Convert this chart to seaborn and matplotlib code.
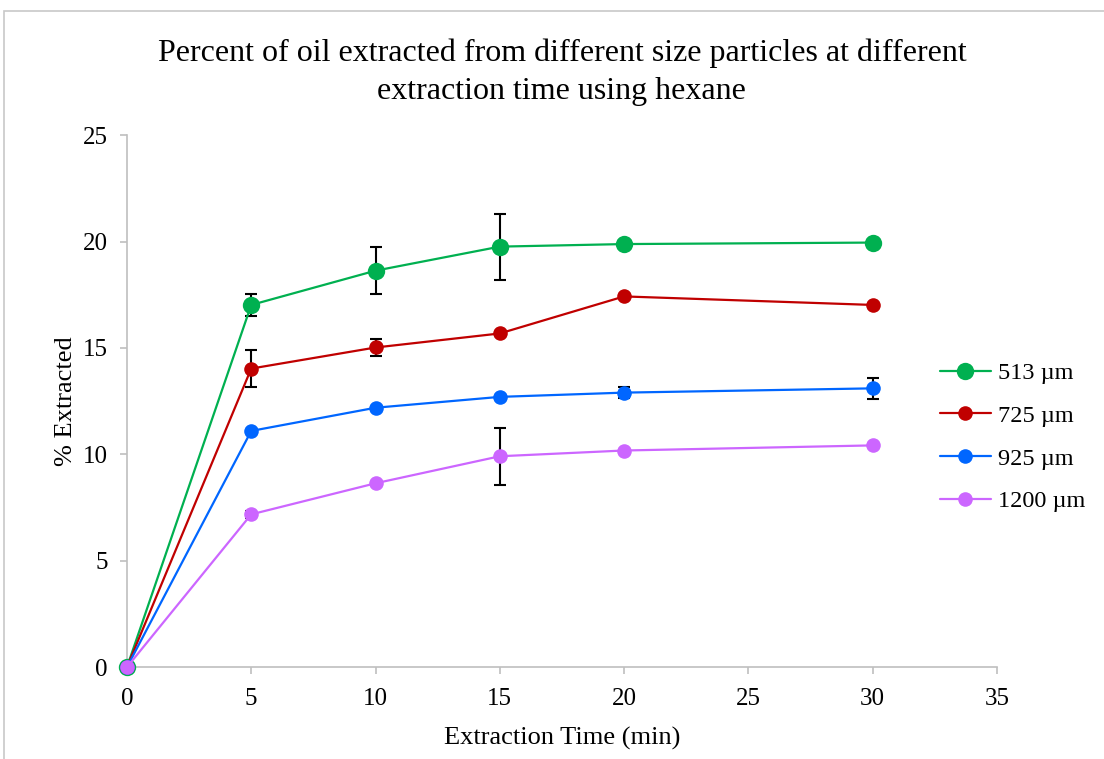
import pandas as pd
import seaborn as sns
import matplotlib.pyplot as plt
from matplotlib.patches import Rectangle

# data
time_min = [0, 5, 10, 15, 20, 30]
sizes = ['513 µm', '725 µm', '925 µm', '1200 µm']
p513 = [0, 17.02, 18.63, 19.76, 19.88, 19.95]
p725 = [0, 14.03, 15.02, 15.68, 17.42, 17.02]
p925 = [0, 11.10, 12.19, 12.70, 12.90, 13.10]
p1200 = [0, 7.18, 8.64, 9.91, 10.18, 10.42]
err513 = [0, 0.52, 1.10, 1.55, 0, 0]
err725 = [0, 0.87, 0.40, 0, 0, 0]
err925 = [0, 0, 0, 0, 0.25, 0.48]
err1200 = [0, 0.18, 0, 1.33, 0, 0]

colors = ['#00B050', '#C00000', '#0066FF', '#CC66FF']
marker_sizes = [12.5, 10.5, 10.5, 10.5]

values = [p513, p725, p925, p1200]
errors = [err513, err725, err925, err1200]

rows = []
for s, v in zip(sizes, values):
    for t, y in zip(time_min, v):
        rows.append({'time': t, 'pct': y, 'size': s})
df = pd.DataFrame(rows)

sns.set_style('white')
plt.rcParams['font.family'] = ['Liberation Serif', 'DejaVu Serif']
plt.rcParams['text.color'] = 'black'
plt.rcParams['axes.labelcolor'] = 'black'
plt.rcParams['xtick.color'] = 'black'
plt.rcParams['ytick.color'] = 'black'

fig = plt.figure(figsize=(11.04, 7.59), dpi=100)
ax = fig.add_axes([0.115, 0.121, 0.788, 0.701])

# error bars first so markers sit on top
for v, e in zip(values, errors):
    ax.errorbar(time_min, v, yerr=e, fmt='none', ecolor='black',
                elinewidth=1.5, capsize=4, capthick=1.5, zorder=2)

for s, c, ms in zip(sizes, colors, marker_sizes):
    sub = df[df['size'] == s]
    sns.lineplot(data=sub, x='time', y='pct', color=c, marker='o',
                 markersize=ms, markeredgewidth=0, linewidth=1.6,
                 label=s, ax=ax, zorder=3)

ax.set_xlim(0, 35)
ax.set_ylim(0, 25)
ax.set_xticks(range(0, 36, 5))
ax.set_yticks(range(0, 26, 5))
ax.tick_params(axis='both', labelsize=18, direction='out', length=5,
               width=1.2, color='#BFBFBF', labelcolor='black',
               bottom=True, left=True)
ax.tick_params(axis='x', pad=10)
ax.tick_params(axis='y', pad=9)
for sp in ['top', 'right']:
    ax.spines[sp].set_visible(False)
for sp in ['left', 'bottom']:
    ax.spines[sp].set_color('#BFBFBF')
    ax.spines[sp].set_linewidth(1.2)
ax.margins(0)
for ln in ax.lines:
    ln.set_clip_on(False)

ax.set_xlabel('Extraction Time (min)', fontsize=19, labelpad=12)
ax.set_ylabel('% Extracted', fontsize=19, labelpad=4)
ax.set_title('Percent of oil extracted from different size particles at different\nextraction time using hexane',
             fontsize=23, pad=26, linespacing=1.4)

ax.legend(loc='center left', bbox_to_anchor=(0.851, 0.424),
          bbox_transform=fig.transFigure, frameon=False, fontsize=17.5,
          handlelength=2.1, labelspacing=0.85, handletextpad=0.3,
          borderaxespad=0, borderpad=0)

# outer chart border like the original chart area
fig.patches.append(Rectangle((4 / 1104, -0.05), 1.1, 1 - 11 / 759 + 0.05,
                             transform=fig.transFigure, fill=False,
                             edgecolor='#C8C8C8', linewidth=1.2))

plt.savefig('out.png', dpi=100)
